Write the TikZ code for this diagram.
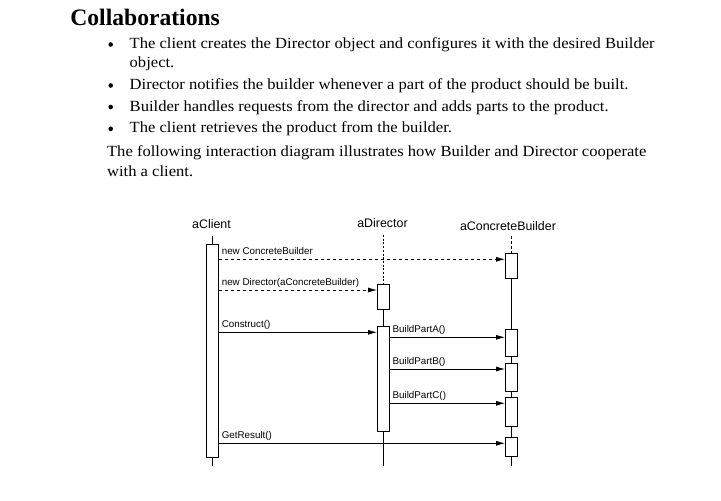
\documentclass[tikz,border=0pt]{standalone}
\usepackage{fontspec}
\setmainfont{Liberation Serif}
\newfontfamily\fliessfont{Liberation Serif}[FakeStretch=1.07]
\newfontfamily\diafont{Liberation Sans}
\usetikzlibrary{arrows.meta}

\begin{document}
\begin{tikzpicture}[x=1pt, y=-1pt, line width=0.8pt,
        txt/.style = {anchor=base west, inner sep=0pt, font=\fliessfont\fontsize{15.5}{18}\selectfont},
        pkt/.style = {circle, fill, inner sep=0pt, minimum size=4.6pt, node contents={}},
        obj/.style = {anchor=base, inner sep=0pt, font=\diafont\fontsize{12.4}{14}\selectfont},
        akt/.style = {rectangle, draw, fill=white, inner sep=0pt, minimum width=11.7pt},
        msg/.style = {-{Latex[length=9pt, width=5pt]}},
        ruf/.style = {msg, dash pattern=on 3.5pt off 2.5pt},
        lbl/.style = {pos=0, anchor=base west, inner sep=0pt, xshift=2.7pt, yshift=4.6pt, font=\diafont\fontsize{9.8}{11}\selectfont}
    ]
    \path[use as bounding box, fill=white] (0,0) rectangle (721,501);

    %Text
    \node (titel) at (70,25) [anchor=base west, inner sep=0pt, font=\bfseries\fontsize{23.6}{28}\selectfont]{Collaborations};
    \node (pkt1) at (110.7,44.5) [pkt];
    \node (z1) at (129.3,48.5) [txt]{The client creates the Director object and configures it with the desired Builder};
    \node (z2) at (129.3,67) [txt]{object.};
    \node (pkt2) at (110.7,85.5) [pkt];
    \node (z3) at (129.3,89.5) [txt]{Director notifies the builder whenever a part of the product should be built.};
    \node (pkt3) at (110.7,107) [pkt];
    \node (z4) at (129.3,111) [txt]{Builder handles requests from the director and adds parts to the product.};
    \node (pkt4) at (110.7,128.8) [pkt];
    \node (z5) at (129.3,132.8) [txt]{The client retrieves the product from the builder.};
    \node (z6) at (106.7,156) [txt]{The following interaction diagram illustrates how Builder and Director cooperate};
    \node (z7) at (106.7,176) [txt]{with a client.};

    %Objekte
    \node (cl_name) at (211.5,228.3) [obj]{aClient};
    \node (di_name) at (382.5,227.3) [obj]{aDirector};
    \node (cb_name) at (508,230) [obj]{aConcreteBuilder};

    %Aktivierungen
    \node (cl_akt) at (212.5,350.5) [akt, minimum height=213pt]{};
    \node (di_akt1) at (383.3,296.8) [akt, minimum height=25pt]{};
    \node (di_akt2) at (383.3,378.8) [akt, minimum height=104.2pt]{};
    \node (cb_akt1) at (511.3,265.8) [akt, minimum height=25pt]{};
    \node (cb_akt2) at (511.3,342.9) [akt, minimum height=27.7pt]{};
    \node (cb_akt3) at (511.3,377.5) [akt, minimum height=28.4pt]{};
    \node (cb_akt4) at (511.3,411.9) [akt, minimum height=28.3pt]{};
    \node (cb_akt5) at (511.3,447) [akt, minimum height=19.4pt]{};

    %Lebenslinien
    \coordinate (cl_top) at (212.5,236);
    \coordinate (cl_bot) at (212.5,466);
    \coordinate (di_top) at (383.3,235);
    \coordinate (di_bot) at (383.3,466);
    \coordinate (cb_top) at (511.3,236);
    \coordinate (cb_bot) at (511.3,466);
    \draw (cl_top) -- (cl_akt.north);
    \draw (cl_akt.south) -- (cl_bot);
    \draw[dash pattern=on 2pt off 1.7pt] (di_top) -- (di_akt1.north);
    \draw (di_akt1.south) -- (di_akt2.north);
    \draw (di_akt2.south) -- (di_bot);
    \draw[dash pattern=on 3pt off 2pt] (cb_top) -- (cb_akt1.north);
    \draw (cb_akt1.south) -- (cb_akt2.north);
    \draw (cb_akt2.south) -- (cb_akt3.north);
    \draw (cb_akt3.south) -- (cb_akt4.north);
    \draw (cb_akt4.south) -- (cb_akt5.north);
    \draw (cb_akt5.south) -- (cb_bot);

    %Nachrichten
    \coordinate (m1) at (0,259.3);
    \coordinate (m2) at (0,290);
    \coordinate (m3) at (0,332.3);
    \coordinate (m4) at (0,337.3);
    \coordinate (m5) at (0,369);
    \coordinate (m6) at (0,403.3);
    \coordinate (m7) at (0,443.3);
    \draw[ruf] (cl_akt.east |- m1) -- (cb_akt1.west |- m1) node[lbl]{new ConcreteBuilder};
    \draw[ruf] (cl_akt.east |- m2) -- (di_akt1.west |- m2) node[lbl]{new Director(aConcreteBuilder)};
    \draw[msg] (cl_akt.east |- m3) -- (di_akt2.west |- m3) node[lbl]{Construct()};
    \draw[msg] (di_akt2.east |- m4) -- (cb_akt2.west |- m4) node[lbl]{BuildPartA()};
    \draw[msg] (di_akt2.east |- m5) -- (cb_akt3.west |- m5) node[lbl]{BuildPartB()};
    \draw[msg] (di_akt2.east |- m6) -- (cb_akt4.west |- m6) node[lbl]{BuildPartC()};
    \draw[msg] (cl_akt.east |- m7) -- (cb_akt5.west |- m7) node[lbl]{GetResult()};

\end{tikzpicture}
\end{document}
